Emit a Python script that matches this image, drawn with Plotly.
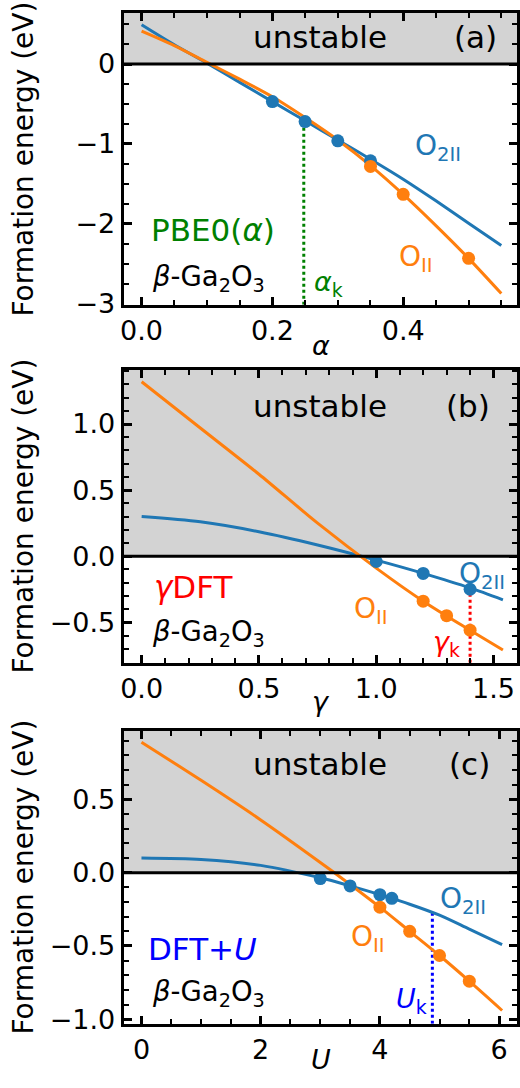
import plotly.graph_objects as go

# ---------------- data ----------------
# Panel (a): PBE0(alpha)
a_curve_x = [0.0, 0.05, 0.1, 0.15, 0.2, 0.25, 0.3, 0.35, 0.4, 0.45, 0.5, 0.55]
a_o2ii_curve = [0.49, 0.24, 0.01, -0.23, -0.47, -0.71, -0.95, -1.19, -1.44, -1.71, -1.99, -2.27]
a_oii_curve = [0.41, 0.23, 0.02, -0.19, -0.41, -0.67, -0.95, -1.27, -1.63, -2.02, -2.43, -2.87]
a_o2ii_x = [0.2, 0.25, 0.3, 0.35]
a_o2ii_y = [-0.47, -0.72, -0.96, -1.21]
a_oii_x = [0.35, 0.4, 0.5]
a_oii_y = [-1.28, -1.63, -2.43]
alpha_k = 0.248
alpha_k_top = -0.72

# Panel (b): gamma DFT
b_curve_x = [0.0, 0.25, 0.5, 0.75, 1.0, 1.2, 1.4, 1.54]
b_o2ii_curve = [0.30, 0.26, 0.185, 0.085, -0.03, -0.13, -0.24, -0.33]
b_oii_curve = [1.32, 0.97, 0.62, 0.25, -0.09, -0.34, -0.56, -0.71]
b_o2ii_x = [1.0, 1.2, 1.4]
b_o2ii_y = [-0.04, -0.13, -0.25]
b_oii_x = [1.2, 1.3, 1.4]
b_oii_y = [-0.34, -0.45, -0.56]
gamma_k = 1.4
gamma_k_top = -0.25

# Panel (c): DFT+U
c_curve_x = [0.0, 1.0, 2.0, 3.0, 3.5, 4.0, 4.5, 5.0, 5.5, 6.05]
c_o2ii_curve = [0.10, 0.09, 0.05, -0.035, -0.09, -0.15, -0.215, -0.29, -0.385, -0.49]
c_oii_curve = [0.89, 0.63, 0.36, 0.07, -0.08, -0.235, -0.40, -0.565, -0.74, -0.94]
c_o2ii_x = [3.0, 3.5, 4.0, 4.2]
c_o2ii_y = [-0.04, -0.09, -0.15, -0.175]
c_oii_x = [4.0, 4.5, 5.0, 5.5]
c_oii_y = [-0.235, -0.40, -0.565, -0.74]
U_k = 4.88
U_k_top = -0.27

# axis ranges
a_xrange = [-0.0275, 0.574]
a_yrange = [-3.01, 0.64]
b_xrange = [-0.077, 1.60]
b_yrange = [-0.806, 1.41]
c_xrange = [-0.30, 6.30]
c_yrange = [-1.03, 0.968]

BLUE = "#1f77b4"
ORANGE = "#ff7f0e"
FONT = "DejaVu Sans"
W, H = 520, 1088

def px(x):
    return x / W

def py(y):
    return 1 - y / H

fig = go.Figure()

panels = [
    dict(xa="x", ya="y", cx=a_curve_x, o2=a_o2ii_curve, o1=a_oii_curve,
         p2x=a_o2ii_x, p2y=a_o2ii_y, p1x=a_oii_x, p1y=a_oii_y,
         kx=alpha_k, ktop=alpha_k_top, kcol="green", yr=a_yrange, xr=a_xrange),
    dict(xa="x2", ya="y2", cx=b_curve_x, o2=b_o2ii_curve, o1=b_oii_curve,
         p2x=b_o2ii_x, p2y=b_o2ii_y, p1x=b_oii_x, p1y=b_oii_y,
         kx=gamma_k, ktop=gamma_k_top, kcol="red", yr=b_yrange, xr=b_xrange),
    dict(xa="x3", ya="y3", cx=c_curve_x, o2=c_o2ii_curve, o1=c_oii_curve,
         p2x=c_o2ii_x, p2y=c_o2ii_y, p1x=c_oii_x, p1y=c_oii_y,
         kx=U_k, ktop=U_k_top, kcol="blue", yr=c_yrange, xr=c_xrange),
]

for p in panels:
    # unstable region
    fig.add_shape(type="rect", xref=f"{p['xa']} domain", yref=p["ya"],
                  x0=0, x1=1, y0=0, y1=p["yr"][1], fillcolor="#d3d3d3",
                  line_width=0, layer="below")
    fig.add_shape(type="line", xref=f"{p['xa']} domain", yref=p["ya"],
                  x0=0, x1=1, y0=0, y1=0, line=dict(color="black", width=3),
                  layer="above")
    # dotted marker line
    fig.add_trace(go.Scatter(x=[p["kx"], p["kx"]], y=[p["yr"][0], p["ktop"]],
                             mode="lines", line=dict(color=p["kcol"], width=3, dash="dot"),
                             xaxis=p["xa"], yaxis=p["ya"], showlegend=False))
    fig.add_trace(go.Scatter(x=p["cx"], y=p["o2"], mode="lines",
                             line=dict(color=BLUE, width=3, shape="spline", smoothing=0.8),
                             xaxis=p["xa"], yaxis=p["ya"], showlegend=False))
    fig.add_trace(go.Scatter(x=p["cx"], y=p["o1"], mode="lines",
                             line=dict(color=ORANGE, width=3, shape="spline", smoothing=0.8),
                             xaxis=p["xa"], yaxis=p["ya"], showlegend=False))
    fig.add_trace(go.Scatter(x=p["p2x"], y=p["p2y"], mode="markers",
                             marker=dict(color=BLUE, size=13),
                             xaxis=p["xa"], yaxis=p["ya"], showlegend=False))
    fig.add_trace(go.Scatter(x=p["p1x"], y=p["p1y"], mode="markers",
                             marker=dict(color=ORANGE, size=13),
                             xaxis=p["xa"], yaxis=p["ya"], showlegend=False))

common = dict(showline=True, linecolor="black", linewidth=3, mirror="allticks",
              ticks="inside", ticklen=8, tickwidth=2.5, tickcolor="black",
              showgrid=False, zeroline=False,
              tickfont=dict(family=FONT, size=27, color="black"))

xdom = [122 / W, 1.0]
ydoms = [[py(309), py(13)], [py(672), py(375)], [py(1038), py(741)]]

def minor(d):
    return dict(dtick=d, ticklen=5, tickwidth=2, ticks="inside", tickcolor="black")

fig.update_layout(
    width=W, height=H, margin=dict(l=0, r=0, t=0, b=0),
    paper_bgcolor="white", plot_bgcolor="white",
    font=dict(family=FONT, color="black"),
    xaxis=dict(domain=xdom, anchor="y", range=a_xrange, dtick=0.2, tick0=0,
               tickformat=".1f", minor=minor(0.05), **common),
    yaxis=dict(domain=ydoms[0], anchor="x", range=a_yrange, dtick=1, tick0=0,
               tickformat="d", minor=minor(0.25), **common),
    xaxis2=dict(domain=xdom, anchor="y2", range=b_xrange, dtick=0.5, tick0=0,
                tickformat=".1f", minor=minor(0.1), **common),
    yaxis2=dict(domain=ydoms[1], anchor="x2", range=b_yrange, dtick=0.5, tick0=0,
                tickformat=".1f", minor=minor(0.1), **common),
    xaxis3=dict(domain=xdom, anchor="y3", range=c_xrange, dtick=2, tick0=0,
                tickformat="d", minor=minor(0.5), **common),
    yaxis3=dict(domain=ydoms[2], anchor="x3", range=c_yrange, dtick=0.5, tick0=0,
                tickformat=".1f", minor=minor(0.1), **common),
)

def ann(x, y, text, size, color="black", angle=0, xanchor="center"):
    fig.add_annotation(x=px(x), y=py(y), xref="paper", yref="paper", text=text,
                       showarrow=False, xanchor=xanchor, yanchor="middle",
                       textangle=angle,
                       font=dict(family=FONT, size=size, color=color))

# panel texts
uns_y = [38, 412, 775]
for i, (lab, lx) in enumerate(zip(["(a)", "(b)", "(c)"], [478, 470, 472])):
    ann(321, uns_y[i], "unstable", 31)
    ann(lx, uns_y[i], lab, 31)

# y titles
for yc in [161, 523, 889]:
    ann(21, yc, "Formation energy (eV)", 28, angle=-90)

# x titles
ann(322, 350, "<i>α</i>", 27)
ann(322, 711, "<i>γ</i>", 27)
ann(322, 1074, "<i>U</i>", 27)

# panel (a)
ann(440, 150, "O<sub>2II</sub>", 28, BLUE)
ann(418, 262, "O<sub>II</sub>", 28, ORANGE)
ann(212, 233, "PBE0(<i>α</i>)", 31, "green")
ann(208, 282, "<i>β</i>-Ga<sub>2</sub>O<sub>3</sub>", 27.5)
ann(329, 287, "<i>α</i><sub>k</sub>", 27, "green")

# panel (b)
ann(485, 584, "O<sub>2II</sub>", 28, BLUE)
ann(372, 619, "O<sub>II</sub>", 28, ORANGE)
ann(193, 595, "<i>γ</i>DFT", 31, "red")
ann(208, 642, "<i>β</i>-Ga<sub>2</sub>O<sub>3</sub>", 27.5)
ann(449, 652, "<i>γ</i><sub>k</sub>", 27, "red")

# panel (c)
ann(465, 913, "O<sub>2II</sub>", 28, BLUE)
ann(369, 952, "O<sub>II</sub>", 28, ORANGE)
ann(202, 962, "DFT+<i>U</i>", 31, "blue")
ann(208, 1007, "<i>β</i>-Ga<sub>2</sub>O<sub>3</sub>", 27.5)
ann(413, 1014, "<i>U</i><sub>k</sub>", 27, "blue")

fig.write_html("out.html")
